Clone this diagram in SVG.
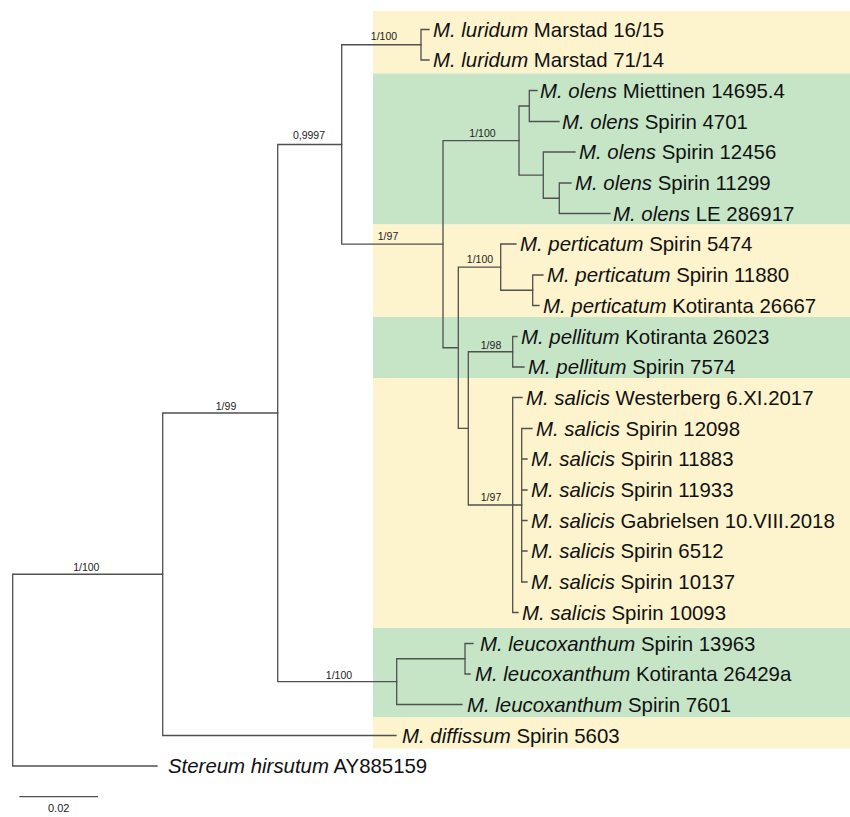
<svg xmlns="http://www.w3.org/2000/svg" width="850" height="817" viewBox="0 0 850 817">
<style>
.bg{fill:#fff}
.y{fill:#FDF3CC}
.g{fill:#C6E5C7}
.tx{font-family:"Liberation Sans",Arial,sans-serif;font-size:20.4px;fill:#111}
.i{font-style:italic}
.lb{font-family:"Liberation Sans",Arial,sans-serif;font-size:10.5px;fill:#222;text-anchor:middle}
.br{fill:none;stroke:#505050;stroke-width:1.3;stroke-linecap:square}
</style>
<rect class="bg" x="0" y="0" width="850" height="817"/>
<g id="bands">
<rect class="y" x="373" y="11" width="477" height="62.5"/>
<rect class="g" x="373" y="73.5" width="477" height="151"/>
<rect class="y" x="373" y="224.5" width="477" height="92.5"/>
<rect class="g" x="373" y="317" width="477" height="61"/>
<rect class="y" x="373" y="378" width="477" height="250"/>
<rect class="g" x="373" y="628" width="477" height="89.5"/>
<rect class="y" x="373" y="717.5" width="477" height="31"/>
</g>
<g id="connectors" class="br">
<path d="M421 29.5V60M421 29.5H429M421 60H429"/>
<path d="M341.7 44.75V244.2M341.7 44.75H421M341.7 244.2H443"/>
<path d="M529.3 90.5V121.5M529.3 90.5H537M529.3 121.5H559"/>
<path d="M559.3 183V213.5M559.3 183H571M559.3 213.5H610"/>
<path d="M543.3 152V198.25M543.3 152H575M543.3 198.25H559.3"/>
<path d="M519 106V175.1M519 106H529.3M519 175.1H543.3"/>
<path d="M443 140.6V347.75M443 140.6H519M443 347.75H458.3"/>
<path d="M532.7 275V305.5M532.7 275H543M532.7 305.5H539"/>
<path d="M500.7 244V290.25M500.7 244H516M500.7 290.25H532.7"/>
<path d="M512.7 336.5V367M512.7 336.5H517M512.7 367H524"/>
<path d="M521.7 428.5V582M521.7 428.5H532M521.7 459H527M521.7 490H527M521.7 520.5H527M521.7 551H527M521.7 582H527"/>
<path d="M512.7 397.5V612.5M512.7 397.5H522M512.7 612.5H518M512.7 505H521.7"/>
<path d="M468.3 351.75V505M468.3 351.75H512.7M468.3 505H512.7"/>
<path d="M458.3 267.1V428.4M458.3 267.1H500.7M458.3 428.4H468.3"/>
<path d="M465 643.5V674M465 643.5H473M465 674H470"/>
<path d="M396.7 658.75V704.5M396.7 658.75H465M396.7 704.5H462"/>
<path d="M277.7 144.5V681.6M277.7 144.5H341.7M277.7 681.6H396.7"/>
<path d="M162.7 413V735.5M162.7 413H277.7M162.7 735.5H396"/>
<path d="M12.7 574.25V766M12.7 574.25H162.7M12.7 766H157"/>
</g>
<g id="supports">
<text class="lb" x="384" y="40">1/100</text>
<text class="lb" x="309" y="139">0,9997</text>
<text class="lb" x="388" y="240">1/97</text>
<text class="lb" x="482.5" y="137">1/100</text>
<text class="lb" x="480" y="263">1/100</text>
<text class="lb" x="491" y="348.5">1/98</text>
<text class="lb" x="491" y="501">1/97</text>
<text class="lb" x="226" y="410">1/99</text>
<text class="lb" x="86.3" y="571">1/100</text>
<text class="lb" x="339" y="678.5">1/100</text>
</g>
<g id="t01"><text class="tx" x="433" y="36.5"><tspan class="i">M. luridum</tspan> Marstad 16/15</text></g>
<g id="t02"><text class="tx" x="433" y="67"><tspan class="i">M. luridum</tspan> Marstad 71/14</text></g>
<g id="t03"><text class="tx" x="540" y="97.5"><tspan class="i">M. olens</tspan> Miettinen 14695.4</text></g>
<g id="t04"><text class="tx" x="562" y="128.5"><tspan class="i">M. olens</tspan> Spirin 4701</text></g>
<g id="t05"><text class="tx" x="579" y="159"><tspan class="i">M. olens</tspan> Spirin 12456</text></g>
<g id="t06"><text class="tx" x="575" y="190"><tspan class="i">M. olens</tspan> Spirin 11299</text></g>
<g id="t07"><text class="tx" x="613" y="220.5"><tspan class="i">M. olens</tspan> LE 286917</text></g>
<g id="t08"><text class="tx" x="520" y="251"><tspan class="i">M. perticatum</tspan> Spirin 5474</text></g>
<g id="t09"><text class="tx" x="547" y="282"><tspan class="i">M. perticatum</tspan> Spirin 11880</text></g>
<g id="t10"><text class="tx" x="543" y="312.5"><tspan class="i">M. perticatum</tspan> Kotiranta 26667</text></g>
<g id="t11"><text class="tx" x="521" y="343.5"><tspan class="i">M. pellitum</tspan> Kotiranta 26023</text></g>
<g id="t12"><text class="tx" x="528" y="374"><tspan class="i">M. pellitum</tspan> Spirin 7574</text></g>
<g id="t13"><text class="tx" x="526" y="404.5"><tspan class="i">M. salicis</tspan> Westerberg 6.XI.2017</text></g>
<g id="t14"><text class="tx" x="536" y="435.5"><tspan class="i">M. salicis</tspan> Spirin 12098</text></g>
<g id="t15"><text class="tx" x="531" y="466"><tspan class="i">M. salicis</tspan> Spirin 11883</text></g>
<g id="t16"><text class="tx" x="531" y="497"><tspan class="i">M. salicis</tspan> Spirin 11933</text></g>
<g id="t17"><text class="tx" x="531" y="527.5"><tspan class="i">M. salicis</tspan> Gabrielsen 10.VIII.2018</text></g>
<g id="t18"><text class="tx" x="531" y="558"><tspan class="i">M. salicis</tspan> Spirin 6512</text></g>
<g id="t19"><text class="tx" x="531" y="589"><tspan class="i">M. salicis</tspan> Spirin 10137</text></g>
<g id="t20"><text class="tx" x="522" y="619.5"><tspan class="i">M. salicis</tspan> Spirin 10093</text></g>
<g id="t21"><text class="tx" x="480" y="650.5"><tspan class="i">M. leucoxanthum</tspan> Spirin 13963</text></g>
<g id="t22"><text class="tx" x="475" y="681"><tspan class="i">M. leucoxanthum</tspan> Kotiranta 26429a</text></g>
<g id="t23"><text class="tx" x="467" y="711.5"><tspan class="i">M. leucoxanthum</tspan> Spirin 7601</text></g>
<g id="t24"><text class="tx" x="402" y="742.5"><tspan class="i">M. diffissum</tspan> Spirin 5603</text></g>
<g id="t25"><text class="tx" x="168" y="773"><tspan class="i">Stereum hirsutum</tspan> AY885159</text></g>
<g id="scalebar">
<path class="br" d="M20 796.7H97.3"/>
<text class="lb" x="58.7" y="812" style="font-size:11px">0.02</text>
</g>
</svg>
